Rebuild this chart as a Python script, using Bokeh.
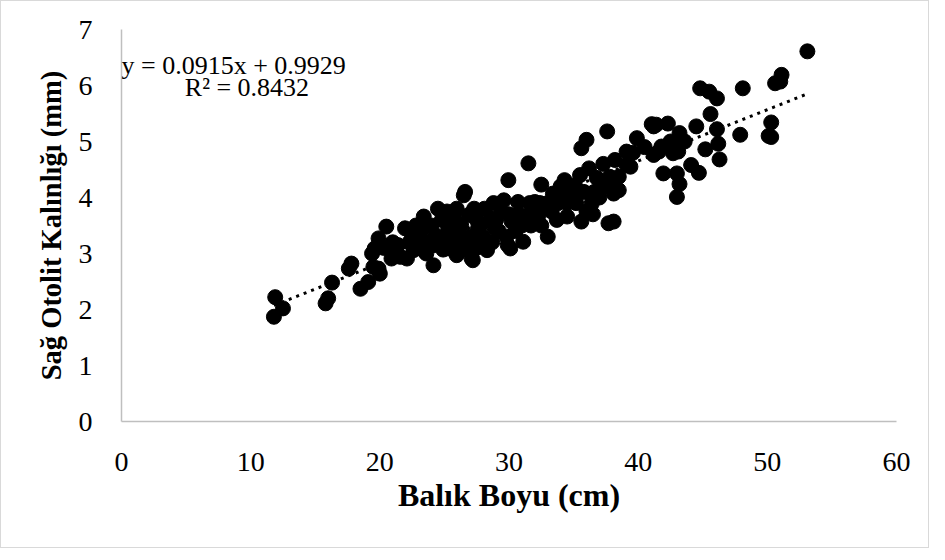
from bokeh.plotting import figure
from bokeh.models import Range1d, Label, FixedTicker
from bokeh.embed import file_html
from bokeh.resources import INLINE

# Fish length (cm)
balik_boyu = [
    11.9, 11.8, 12.5, 16.3, 15.8, 16.0, 17.8, 17.6, 18.5, 19.1,
    19.5, 20.5, 19.9, 19.4, 21.05, 20.0, 21.95, 23.4, 24.5, 26.5,
    25.95, 19.6, 19.9, 24.15, 22.1, 20.9, 23.0, 24.3, 25.3, 26.1,
    25.3, 21.4, 23.5, 25.8, 28.1, 29.95, 32.5, 25.95, 27.2, 28.3,
    30.1, 31.1, 31.3, 32.1, 21.6, 22.6, 23.6, 24.9, 26.0, 31.5,
    26.6, 30.7, 32.0, 33.6, 29.4, 26.9, 27.1, 33.0, 32.3, 27.6,
    28.9, 28.6, 26.1, 31.2, 30.2, 33.3, 37.6, 36.0, 35.6, 39.9,
    41.2, 39.1, 38.2, 36.2, 39.4, 34.3, 35.1, 37.8, 38.3, 37.3,
    38.1, 36.4, 36.0, 35.6, 37.7, 41.95, 43.0, 43.0, 41.6, 42.7,
    43.2, 33.4, 34.7, 32.4, 34.5, 33.7, 32.1, 53.1, 51.1, 50.6,
    51.0, 48.1, 44.8, 45.5, 46.1, 45.6, 46.1, 50.3, 47.9, 50.1,
    50.3, 44.5, 42.3, 41.05, 41.4, 43.6, 41.8, 43.1, 44.1, 44.7,
    43.2, 41.2, 39.1, 38.5, 38.5, 38.1, 46.2, 45.2, 46.3,
    22.5, 23.2, 24.0, 24.8, 25.5, 26.3, 27.0, 27.5, 28.0, 28.7,
    29.2, 29.8, 30.5, 31.0, 31.7, 32.5, 33.0, 33.8, 34.5, 35.2,
    35.8, 36.6, 37.0, 36.8, 37.3, 39.6, 40.5, 42.5, 22.8, 24.2,
    25.0, 26.8, 27.8, 29.0, 30.0, 30.8, 31.6, 29.6, 27.3, 25.2,
    20.3, 21.0, 22.3, 23.8, 35.5, 34.0, 36.5, 27.5, 28.8, 29.9,
]
# Right otolith thickness (mm)
sag_otolit_kalinligi = [
    2.22, 1.87, 2.02, 2.48, 2.11, 2.20, 2.82, 2.73, 2.37, 2.49,
    2.76, 3.48, 3.27, 3.00, 2.94, 2.64, 3.45, 3.66, 3.80, 4.04,
    3.80, 3.09, 2.73, 2.79, 2.91, 2.91, 3.21, 3.33, 3.45, 3.03,
    3.09, 3.15, 3.03, 3.63, 3.80, 4.31, 4.23, 2.97, 2.88, 3.06,
    3.09, 3.21, 3.66, 3.84, 2.94, 3.06, 3.00, 3.07, 3.18, 4.61,
    4.10, 3.92, 3.92, 4.04, 3.75, 3.69, 2.91, 3.30, 3.69, 3.45,
    3.45, 3.63, 3.33, 3.57, 3.57, 3.75, 5.18, 5.03, 4.88, 5.06,
    5.27, 4.82, 4.67, 4.52, 4.55, 4.31, 4.22, 4.37, 4.16, 4.19,
    4.07, 3.89, 3.75, 3.57, 3.54, 4.43, 4.43, 4.01, 4.82, 4.79,
    5.15, 4.07, 4.07, 3.90, 3.66, 3.60, 3.72, 6.61, 6.19, 6.04,
    6.07, 5.95, 5.95, 5.89, 5.77, 5.49, 5.22, 5.34, 5.12, 5.10,
    5.08, 5.27, 5.32, 5.31, 5.30, 5.00, 4.91, 4.82, 4.58, 4.44,
    4.24, 4.76, 4.58, 4.37, 4.13, 3.57, 4.96, 4.86, 4.68,
    3.30, 3.40, 3.50, 3.60, 3.30, 3.50, 3.30, 3.60, 3.30, 3.20,
    3.40, 3.30, 3.40, 3.50, 3.50, 3.50, 3.90, 3.90, 3.90, 3.90,
    4.10, 4.10, 4.00, 4.35, 4.60, 4.80, 4.90, 5.00, 3.50, 3.15,
    3.30, 3.10, 3.50, 3.60, 3.70, 3.70, 3.90, 3.95, 3.80, 3.75,
    3.10, 3.20, 3.20, 3.20, 4.40, 4.20, 3.70, 3.10, 3.90, 3.15,
]

x_ticks = [0, 10, 20, 30, 40, 50, 60]
y_ticks = [0, 1, 2, 3, 4, 5, 6, 7]
slope = 0.0915
intercept = 0.9929
equation_text = "y = 0.0915x + 0.9929"
r2_text = "R² = 0.8432"
x_title = "Balık Boyu (cm)"
y_title = "Sağ Otolit Kalınlığı (mm)"

FONT = "Liberation Serif"

p = figure(width=929, height=548, output_backend="svg", toolbar_location=None,
           x_range=Range1d(0, 60), y_range=Range1d(0, 7),
           min_border_left=120, min_border_right=34,
           min_border_top=28, min_border_bottom=128)
p.styles = {"border": "1px solid #d9d9d9"}
p.grid.visible = False
p.outline_line_color = None
p.background_fill_color = "white"
p.border_fill_color = "white"

for ax, ticks in ((p.xaxis, x_ticks), (p.yaxis, y_ticks)):
    ax.ticker = FixedTicker(ticks=ticks)
    ax.axis_line_color = "#bfbfbf"
    ax.axis_line_width = 1.5
    ax.major_tick_line_color = None
    ax.minor_tick_line_color = None
    ax.major_tick_out = 0
    ax.major_tick_in = 0
    ax.major_label_text_font = FONT
    ax.major_label_text_font_size = "28px"
    ax.major_label_text_color = "black"
    ax.axis_label_text_font = FONT
    ax.axis_label_text_font_style = "bold"
    ax.axis_label_text_color = "black"

p.xaxis.major_label_standoff = 31
p.yaxis.major_label_standoff = 29
p.xaxis.axis_label = x_title
p.yaxis.axis_label = y_title
p.xaxis.axis_label_text_font_size = "32px"
p.yaxis.axis_label_text_font_size = "28.5px"
p.xaxis.axis_label_standoff = 3
p.yaxis.axis_label_standoff = 9

p.scatter(balik_boyu, sag_otolit_kalinligi, size=15, color="black")

x0, x1 = min(balik_boyu), max(balik_boyu)
p.line([x0, x1], [slope * x0 + intercept, slope * x1 + intercept],
       line_color="black", line_width=3, line_dash="3 5")

p.add_layout(Label(x=0, y=6.36, text=equation_text, text_font=FONT,
                   text_font_size="26px", text_baseline="middle",
                   text_align="left", text_color="black"))
p.add_layout(Label(x=4.9, y=5.96, text=r2_text, text_font=FONT,
                   text_font_size="26px", text_baseline="middle",
                   text_align="left", text_color="black"))

open("out.html", "w").write(file_html(p, INLINE))
